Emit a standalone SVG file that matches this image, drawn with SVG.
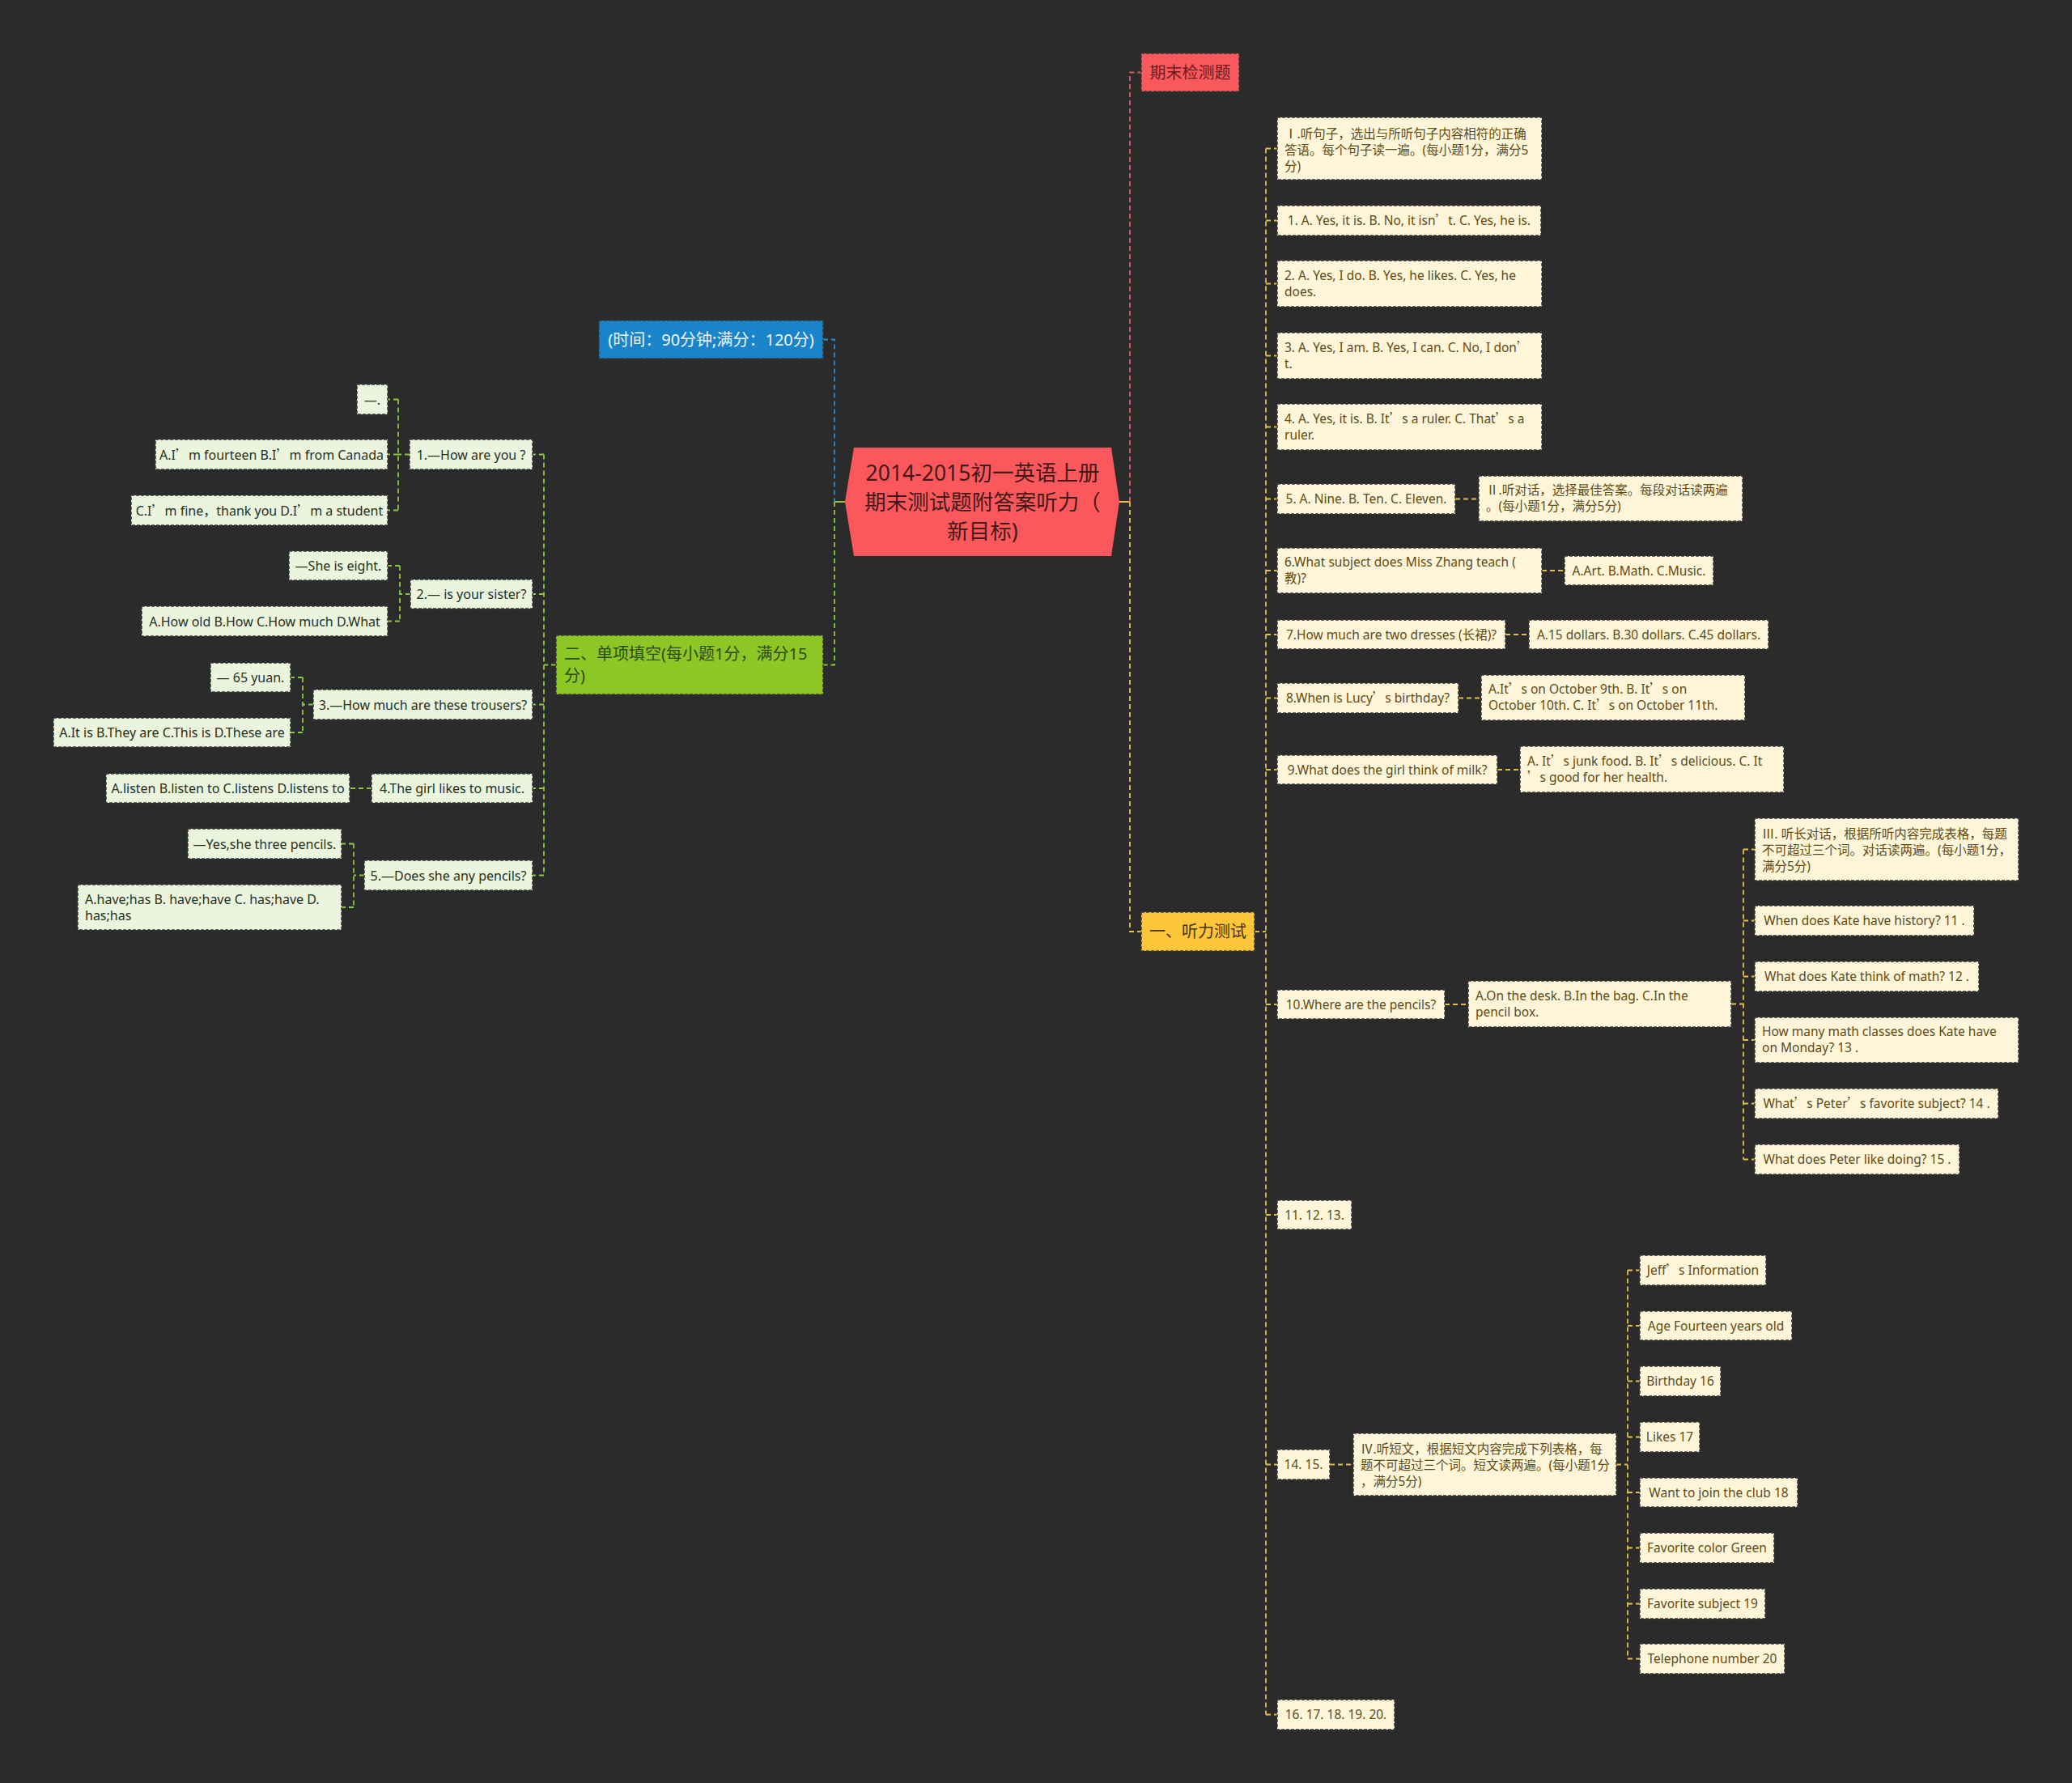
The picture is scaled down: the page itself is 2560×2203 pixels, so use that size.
<svg xmlns="http://www.w3.org/2000/svg" width="2560" height="2203" viewBox="0 0 2560 2203">
<style>
text{font-family:"Noto Sans","Noto Sans CJK SC",sans-serif;}
.q{font-family:"Noto Sans CJK SC",sans-serif;}
.nr{fill:#FFF5D9;stroke:#3a3a3a;stroke-width:1.5;stroke-dasharray:4 2;}
.nl{fill:#EBF4DD;stroke:#3a3a3a;stroke-width:1.5;stroke-dasharray:4 2;}
.tr{fill:#5E4B16;font-size:15.5px;}
.tl{fill:#26301F;font-size:16px;}
.m{text-anchor:middle;}
.c{fill:none;stroke-width:1.8;stroke-dasharray:6 4;}
.cy{stroke:#E3C04B;}
.cg{stroke:#8DC63F;}
.cr{stroke:#E05A5E;}
.cb{stroke:#2A8BD6;}
</style>
<rect width="2560" height="2203" fill="#2B2B2B"/>
<g id="connectors">
<path d="M1383,620 H1396" stroke="#E3C04B" stroke-width="2" fill="none"/>
<path d="M1044,620 H1031" stroke="#8DC63F" stroke-width="2" fill="none"/>
<path class="c cr" d="M1396,620 V89.5 H1410"/>
<path class="c cy" d="M1396,620 V1151 H1410"/>
<path class="c cy" d="M1550,1151 H1564"/>
<path class="c cy" d="M1564,183.5 V2118.5"/>
<path class="c cy" d="M1564,183.5 H1578 M1564,272.5 H1578 M1564,350.5 H1578 M1564,439.5 H1578 M1564,527.5 H1578 M1564,616.5 H1578 M1564,705 H1578 M1564,784 H1578 M1564,862.5 H1578 M1564,951 H1578 M1564,1241 H1578 M1564,1501 H1578 M1564,1809.5 H1578 M1564,2118.5 H1578"/>
<path class="c cy" d="M1798,616.5 H1827 M1905,705 H1933 M1860,784 H1889 M1802,862.5 H1830 M1850,951 H1878 M1785,1241 H1814"/>
<path class="c cy" d="M2139,1240.5 H2154 M2154,1049.5 V1432.5"/>
<path class="c cy" d="M2154,1049.5 H2168 M2154,1137.5 H2168 M2154,1206.5 H2168 M2154,1285 H2168 M2154,1363.5 H2168 M2154,1432.5 H2168"/>
<path class="c cy" d="M1643,1809.5 H1672 M1997,1809.5 H2011 M2011,1569.5 V2049.5"/>
<path class="c cy" d="M2011,1569.5 H2026 M2011,1638 H2026 M2011,1706.5 H2026 M2011,1775.5 H2026 M2011,1844 H2026 M2011,1912.5 H2026 M2011,1981.5 H2026 M2011,2049.5 H2026"/>
<path class="c cb" d="M1017,419.5 H1031 V620"/>
<path class="c cg" d="M1031,620 V821.5 H1017"/>
<path class="c cg" d="M687,821.5 H672 M672,561.5 V1081.5"/>
<path class="c cg" d="M672,561.5 H658 M672,734 H658 M672,870.5 H658 M672,974 H658 M672,1081.5 H658"/>
<path class="c cg" d="M506,561.5 H492 M492,493.5 V630.5 M492,493.5 H479 M492,561.5 H479 M492,630.5 H479"/>
<path class="c cg" d="M507,734 H494 M494,699 V767.5 M494,699 H479 M494,767.5 H479"/>
<path class="c cg" d="M387,870.5 H374 M374,837 V905 M374,837 H359 M374,905 H359"/>
<path class="c cg" d="M459,974 H432"/>
<path class="c cg" d="M450,1081.5 H437 M437,1042.5 V1121 M437,1042.5 H422 M437,1121 H422"/>
</g>
<g id="root">
<polygon points="1044,620 1055,553 1373,553 1383,620 1373,687 1055,687" fill="#FA585C"/>
<text x="1214" y="594" class="m" style="font-size:26.5px;fill:#451818">2014-2015初一英语上册</text>
<text x="1214" y="630" class="m" style="font-size:26.5px;fill:#451818">期末测试题附答案听力（</text>
<text x="1214" y="666" class="m" style="font-size:26.5px;fill:#451818">新目标)</text>
</g>
<g id="n-qimo">
<rect x="1410" y="66" width="121" height="47" fill="#F9585C" stroke="#3a3a3a" stroke-width="1.5" stroke-dasharray="4 2"/>
<text x="1470.5" y="96.5" class="m" style="font-size:20px;fill:#6B1B1E">期末检测题</text>
</g>
<g id="n-tingli">
<rect x="1410" y="1127" width="140" height="48" fill="#FCC53A" stroke="#3a3a3a" stroke-width="1.5" stroke-dasharray="4 2"/>
<text x="1480" y="1158" class="m" style="font-size:20px;fill:#4A3300">一、听力测试</text>
</g>
<g id="n-time">
<rect x="740" y="396" width="277" height="47" fill="#1A84CB" stroke="#3a3a3a" stroke-width="1.5" stroke-dasharray="4 2"/>
<text x="878.5" y="426.5" class="m" style="font-size:20px;fill:#EEF5FB">(时间：90分钟;满分：120分)</text>
</g>
<g id="n-danxiang">
<rect x="687" y="785" width="330" height="73" fill="#8CC726" stroke="#3a3a3a" stroke-width="1.5" stroke-dasharray="4 2"/>
<text x="697" y="815" style="font-size:20px;fill:#2F4A10">二、单项填空(每小题1分，满分15</text>
<text x="697" y="842" style="font-size:20px;fill:#2F4A10">分)</text>
</g>
<g id="r-I"><rect class="nr" x="1578" y="145" width="327" height="77"/>
<text class="tr" x="1587" y="170.5">Ⅰ.听句子，选出与所听句子内容相符的正确</text>
<text class="tr" x="1587" y="190.5">答语。每个句子读一遍。(每小题1分，满分5</text>
<text class="tr" x="1587" y="210.5">分)</text></g>
<g id="r-1"><rect class="nr" x="1578" y="254" width="326" height="37"/>
<text class="tr m" x="1741" y="278">1. A. Yes, it is. B. No, it isn<tspan class="q">’</tspan>t. C. Yes, he is.</text></g>
<g id="r-2"><rect class="nr" x="1578" y="322" width="327" height="57"/>
<text class="tr" x="1587" y="346">2. A. Yes, I do. B. Yes, he likes. C. Yes, he</text>
<text class="tr" x="1587" y="366">does.</text></g>
<g id="r-3"><rect class="nr" x="1578" y="411" width="327" height="57"/>
<text class="tr" x="1587" y="435">3. A. Yes, I am. B. Yes, I can. C. No, I don<tspan class="q">’</tspan></text>
<text class="tr" x="1587" y="455">t.</text></g>
<g id="r-4"><rect class="nr" x="1578" y="499" width="327" height="57"/>
<text class="tr" x="1587" y="523">4. A. Yes, it is. B. It<tspan class="q">’</tspan>s a ruler. C. That<tspan class="q">’</tspan>s a</text>
<text class="tr" x="1587" y="543">ruler.</text></g>
<g id="r-5"><rect class="nr" x="1578" y="598" width="220" height="37"/>
<text class="tr m" x="1688" y="622">5. A. Nine. B. Ten. C. Eleven.</text></g>
<g id="r-II"><rect class="nr" x="1827" y="588" width="326" height="56"/>
<text class="tr" x="1836" y="611">Ⅱ.听对话，选择最佳答案。每段对话读两遍</text>
<text class="tr" x="1836" y="631">。(每小题1分，满分5分)</text></g>
<g id="r-6"><rect class="nr" x="1578" y="677" width="327" height="56"/>
<text class="tr" x="1587" y="700">6.What subject does Miss Zhang teach (</text>
<text class="tr" x="1587" y="720">教)?</text></g>
<g id="r-6a"><rect class="nr" x="1933" y="687" width="184" height="36"/>
<text class="tr m" x="2025" y="710.5">A.Art. B.Math. C.Music.</text></g>
<g id="r-7"><rect class="nr" x="1578" y="766" width="282" height="36"/>
<text class="tr m" x="1719" y="789.5">7.How much are two dresses (长裙)?</text></g>
<g id="r-7a"><rect class="nr" x="1889" y="766" width="296" height="36"/>
<text class="tr m" x="2037" y="789.5">A.15 dollars. B.30 dollars. C.45 dollars.</text></g>
<g id="r-8"><rect class="nr" x="1578" y="844" width="224" height="37"/>
<text class="tr m" x="1690" y="868">8.When is Lucy<tspan class="q">’</tspan>s birthday?</text></g>
<g id="r-8a"><rect class="nr" x="1830" y="834" width="326" height="56"/>
<text class="tr" x="1839" y="857">A.It<tspan class="q">’</tspan>s on October 9th. B. It<tspan class="q">’</tspan>s on</text>
<text class="tr" x="1839" y="877">October 10th. C. It<tspan class="q">’</tspan>s on October 11th.</text></g>
<g id="r-9"><rect class="nr" x="1578" y="933" width="272" height="36"/>
<text class="tr m" x="1714" y="956.5">9.What does the girl think of milk?</text></g>
<g id="r-9a"><rect class="nr" x="1878" y="922" width="326" height="57"/>
<text class="tr" x="1887" y="946">A. It<tspan class="q">’</tspan>s junk food. B. It<tspan class="q">’</tspan>s delicious. C. It</text>
<text class="tr" x="1887" y="966"><tspan class="q">’</tspan>s good for her health.</text></g>
<g id="r-10"><rect class="nr" x="1578" y="1223" width="207" height="36"/>
<text class="tr m" x="1681.5" y="1246.5">10.Where are the pencils?</text></g>
<g id="r-10a"><rect class="nr" x="1814" y="1212" width="325" height="57"/>
<text class="tr" x="1823" y="1236">A.On the desk. B.In the bag. C.In the</text>
<text class="tr" x="1823" y="1256">pencil box.</text></g>
<g id="r-III"><rect class="nr" x="2168" y="1011" width="326" height="77"/>
<text class="tr" x="2177" y="1036">Ⅲ. 听长对话，根据所听内容完成表格，每题</text>
<text class="tr" x="2177" y="1056">不可超过三个词。对话读两遍。(每小题1分，</text>
<text class="tr" x="2177" y="1076">满分5分)</text></g>
<g id="r-11"><rect class="nr" x="2168" y="1119" width="271" height="37"/>
<text class="tr m" x="2303.5" y="1143">When does Kate have history? 11 .</text></g>
<g id="r-12"><rect class="nr" x="2168" y="1188" width="277" height="37"/>
<text class="tr m" x="2306.5" y="1212">What does Kate think of math? 12 .</text></g>
<g id="r-13"><rect class="nr" x="2168" y="1257" width="326" height="56"/>
<text class="tr" x="2177" y="1280">How many math classes does Kate have</text>
<text class="tr" x="2177" y="1300">on Monday? 13 .</text></g>
<g id="r-14"><rect class="nr" x="2168" y="1345" width="301" height="37"/>
<text class="tr m" x="2318.5" y="1369">What<tspan class="q">’</tspan>s Peter<tspan class="q">’</tspan>s favorite subject? 14 .</text></g>
<g id="r-15"><rect class="nr" x="2168" y="1414" width="253" height="37"/>
<text class="tr m" x="2294.5" y="1438">What does Peter like doing? 15 .</text></g>
<g id="r-111213"><rect class="nr" x="1578" y="1483" width="92" height="36"/>
<text class="tr m" x="1624" y="1506.5">11. 12. 13.</text></g>
<g id="r-1415"><rect class="nr" x="1578" y="1791" width="65" height="37"/>
<text class="tr m" x="1610.5" y="1815">14. 15.</text></g>
<g id="r-IV"><rect class="nr" x="1672" y="1771" width="325" height="77"/>
<text class="tr" x="1681" y="1796">Ⅳ.听短文，根据短文内容完成下列表格，每</text>
<text class="tr" x="1681" y="1816">题不可超过三个词。短文读两遍。(每小题1分</text>
<text class="tr" x="1681" y="1836">，满分5分)</text></g>
<g id="r-jeff"><rect class="nr" x="2026" y="1551" width="156" height="37"/>
<text class="tr m" x="2104" y="1575">Jeff<tspan class="q">’</tspan>s Information</text></g>
<g id="r-age"><rect class="nr" x="2026" y="1620" width="188" height="36"/>
<text class="tr m" x="2120" y="1643.5">Age Fourteen years old</text></g>
<g id="r-bday"><rect class="nr" x="2026" y="1688" width="100" height="37"/>
<text class="tr m" x="2076" y="1712">Birthday 16</text></g>
<g id="r-likes"><rect class="nr" x="2026" y="1757" width="74" height="37"/>
<text class="tr m" x="2063" y="1781">Likes 17</text></g>
<g id="r-club"><rect class="nr" x="2026" y="1826" width="195" height="36"/>
<text class="tr m" x="2123.5" y="1849.5">Want to join the club 18</text></g>
<g id="r-color"><rect class="nr" x="2026" y="1894" width="166" height="37"/>
<text class="tr m" x="2109" y="1918">Favorite color Green</text></g>
<g id="r-subj"><rect class="nr" x="2026" y="1963" width="155" height="37"/>
<text class="tr m" x="2103.5" y="1987">Favorite subject 19</text></g>
<g id="r-tel"><rect class="nr" x="2026" y="2031" width="179" height="37"/>
<text class="tr m" x="2115.5" y="2055">Telephone number 20</text></g>
<g id="r-1620"><rect class="nr" x="1578" y="2100" width="145" height="37"/>
<text class="tr m" x="1650.5" y="2124">16. 17. 18. 19. 20.</text></g>
<g id="l-1"><rect class="nl" x="506" y="543" width="152" height="37"/>
<text class="tl m" x="582" y="567.5">1.—How are you ?</text></g>
<g id="l-1a"><rect class="nl" x="441" y="475" width="38" height="37"/>
<text class="tl m" x="460" y="499.5">—.</text></g>
<g id="l-1b"><rect class="nl" x="192" y="543" width="287" height="37"/>
<text class="tl m" x="335.5" y="567.5">A.I<tspan class="q">’</tspan>m fourteen B.I<tspan class="q">’</tspan>m from Canada</text></g>
<g id="l-1c"><rect class="nl" x="162" y="612" width="317" height="37"/>
<text class="tl m" x="320.5" y="636.5">C.I<tspan class="q">’</tspan>m fine<tspan class="q">，</tspan>thank you D.I<tspan class="q">’</tspan>m a student</text></g>
<g id="l-2"><rect class="nl" x="507" y="716" width="151" height="36"/>
<text class="tl m" x="582.5" y="740">2.— is your sister?</text></g>
<g id="l-2a"><rect class="nl" x="357" y="681" width="122" height="36"/>
<text class="tl m" x="418" y="705">—She is eight.</text></g>
<g id="l-2b"><rect class="nl" x="175" y="749" width="304" height="37"/>
<text class="tl m" x="327" y="773.5">A.How old B.How C.How much D.What</text></g>
<g id="l-3"><rect class="nl" x="387" y="852" width="271" height="37"/>
<text class="tl m" x="522.5" y="876.5">3.—How much are these trousers?</text></g>
<g id="l-3a"><rect class="nl" x="260" y="819" width="99" height="36"/>
<text class="tl m" x="309.5" y="843">— 65 yuan.</text></g>
<g id="l-3b"><rect class="nl" x="66" y="887" width="293" height="36"/>
<text class="tl m" x="212.5" y="911">A.It is B.They are C.This is D.These are</text></g>
<g id="l-4"><rect class="nl" x="459" y="956" width="199" height="36"/>
<text class="tl m" x="558.5" y="980">4.The girl likes to  music.</text></g>
<g id="l-4a"><rect class="nl" x="131" y="956" width="301" height="36"/>
<text class="tl m" x="281.5" y="980">A.listen B.listen to C.listens D.listens to</text></g>
<g id="l-5"><rect class="nl" x="450" y="1063" width="208" height="37"/>
<text class="tl m" x="554" y="1087.5">5.—Does she any pencils?</text></g>
<g id="l-5a"><rect class="nl" x="232" y="1024" width="190" height="37"/>
<text class="tl m" x="327" y="1048.5">—Yes,she three pencils.</text></g>
<g id="l-5b"><rect class="nl" x="96" y="1093" width="326" height="56"/>
<text class="tl" x="105" y="1117">A.have;has B. have;have C. has;have D.</text>
<text class="tl" x="105" y="1137">has;has</text></g>
</svg>
